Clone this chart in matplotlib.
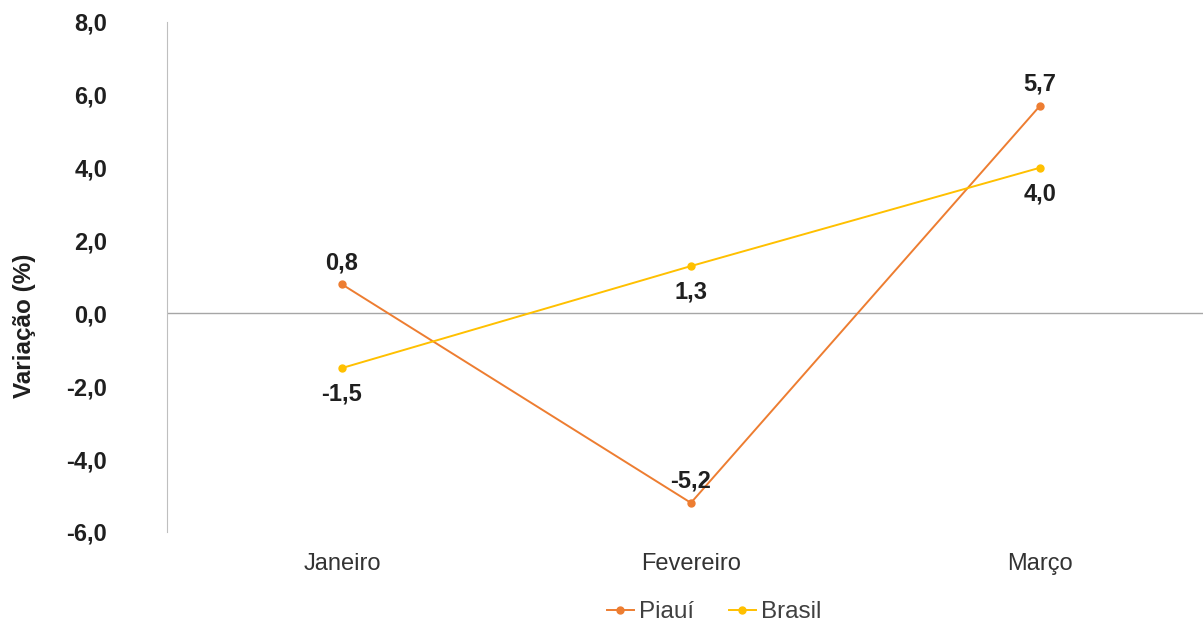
import matplotlib
matplotlib.use("Agg")
import matplotlib.pyplot as plt

categories = ["Janeiro", "Fevereiro", "Março"]
piaui = [0.8, -5.2, 5.7]
brasil = [-1.5, 1.3, 4.0]
yticks = [-6, -4, -2, 0, 2, 4, 6, 8]

plt.rcParams['font.family'] = ['Liberation Sans', 'DejaVu Sans']

fig = plt.figure(figsize=(12.03, 6.22), dpi=100)
ax = fig.add_axes([167/1203, 1-532/622, 1-167/1203, (532-22)/622])

x = list(range(len(categories)))
ax.plot(x, piaui, color="#ED7D31", lw=1.4, marker="o", ms=5, label="Piauí")
ax.plot(x, brasil, color="#FFC000", lw=1.4, marker="o", ms=5, label="Brasil")

def fmt(v):
    return f"{v:.1f}".replace(".", ",")

for xi, v in zip(x, piaui):
    ax.annotate(fmt(v), (xi, v), xytext=(0, 15.6), textcoords="offset points",
                ha="center", va="center", fontsize=17, fontweight="bold", color="#1f1f1f")
for xi, v in zip(x, brasil):
    ax.annotate(fmt(v), (xi, v), xytext=(0, -19), textcoords="offset points",
                ha="center", va="center", fontsize=17, fontweight="bold", color="#1f1f1f")

ax.axhline(0, color="#a6a6a6", lw=1, zorder=0)
ax.set_xlim(-0.501, 2.467)
ax.set_ylim(-6, 8)
ax.set_yticks(yticks)
ax.set_yticklabels([fmt(t) for t in yticks], fontsize=17, fontweight="bold", color="#1f1f1f")
ax.set_xticks(x)
ax.set_xticklabels(categories, fontsize=17, color="#333333")
ax.tick_params(axis="both", length=0)
ax.tick_params(axis="y", pad=43)
ax.tick_params(axis="x", pad=15)
for s in ["top", "right", "bottom"]:
    ax.spines[s].set_visible(False)
ax.spines["left"].set_color("#bfbfbf")
fig.text(24/1203, 1-326/622, "Variação (%)", rotation=90, ha="center", va="center",
         fontsize=17.5, fontweight="bold", color="#1f1f1f")

leg = fig.legend(loc="center", bbox_to_anchor=(714/1203, 1-612/622), ncol=2, frameon=False,
                 fontsize=17.5, handlelength=1.1, columnspacing=1.45, handletextpad=0.2)
for t in leg.get_texts():
    t.set_color("#404040")

fig.savefig("out.png", dpi=100)
